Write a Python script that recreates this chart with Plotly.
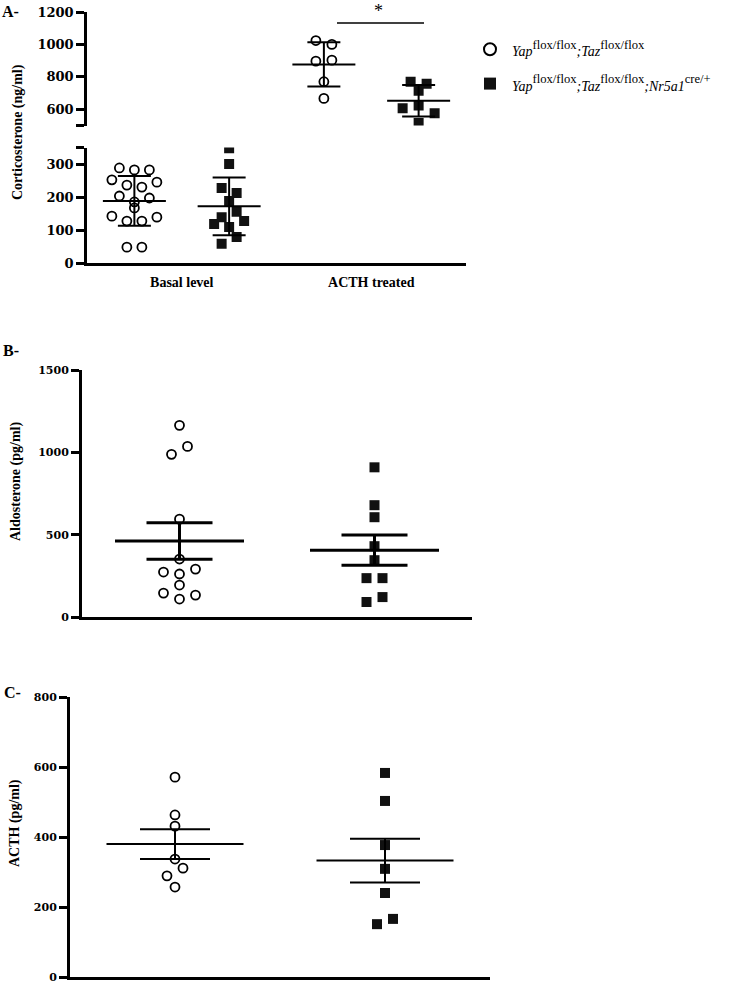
import numpy as np
import plotly.graph_objects as go

# ------------------------------------------------------------------ data
categories = ["Basal level", "ACTH treated"]
BASE = '<span style="font-size:14px">'
wt_label = (f"{BASE}<i>Yap</i></span><sup>flox/flox</sup>"
            f"{BASE}<i>;Taz</i></span><sup>flox/flox</sup>")
ko_label = (f"{BASE}<i>Yap</i></span><sup>flox/flox</sup>"
            f"{BASE}<i>;Taz</i></span><sup>flox/flox</sup>"
            f"{BASE}<i>;Nr5a1</i></span><sup>cre/+</sup>")

# Panel A: corticosterone (ng/ml)
cort_basal_wt = [288, 282, 282, 252, 236, 230, 245, 203, 185, 197, 167,
                 142, 127, 127, 139, 48, 48]
cort_basal_ko = [348, 300, 227, 212, 188, 139, 155, 118, 109, 127, 58, 79]
cort_acth_wt = [1024, 1000, 897, 903, 770, 667]
cort_acth_ko = [770, 758, 715, 606, 624, 576, 515]

# Panel B: aldosterone (pg/ml)
aldo_wt = [1164, 988, 1036, 594, 352, 273, 261, 291, 194, 145, 109, 133]
aldo_ko = [909, 679, 606, 430, 345, 236, 236, 91, 121]

# Panel C: ACTH (pg/ml)
acth_wt = [571, 463, 431, 337, 289, 311, 257]
acth_ko = [583, 503, 377, 309, 240, 151, 166]

a_low_ticks = [0, 100, 200, 300, 350]
a_low_text = ["0", "100", "200", "300", ""]
a_high_ticks = [500, 600, 800, 1000, 1200]
a_high_text = ["", "600", "800", "1000", "1200"]
b_ticks = [0, 500, 1000, 1500]
c_ticks = [0, 200, 400, 600, 800]

# ------------------------------------------------------------------ layout geometry (pixels)
W, H = 750, 981
A_X = (87, 466)
A_LOW = (263, 147.5, 0, 350)      # pixel bottom, pixel top, value min, value max
A_HIGH = (125.5, 12, 500, 1200)
B_X = (82, 472)
B_Y = (617, 370, 0, 1500)
C_X = (70, 490)
C_Y = (977, 697, 0, 800)
XRANGE = (0.5, 2.5)


def fx(px):
    return px / W


def fy(py):
    return 1 - py / H


def ppu_y(box):
    return (box[0] - box[1]) / (box[3] - box[2])


def ppu_x(xb):
    return (xb[1] - xb[0]) / (XRANGE[1] - XRANGE[0])


def swarm(values, center, py, px, spacing_px, row_px=8.0):
    """Prism-like scatter layout: points in the same value row spread symmetrically."""
    vals = np.asarray(values, float)
    order = np.argsort(-vals, kind="stable")
    rows = []
    for i in order:
        if rows and (vals[rows[-1][0]] - vals[i]) * py < row_px:
            rows[-1].append(i)
        else:
            rows.append([i])
    xs = np.empty(len(vals))
    for r in rows:
        r = sorted(r)
        n = len(r)
        for k, i in enumerate(r):
            xs[i] = center + (k - (n - 1) / 2) * spacing_px / px
    return xs


FONT = "Liberation Serif"
TICKFONT = "DejaVu Serif"
fig = go.Figure()


def add_points(vals, center, ybox, xb, spacing, xa, ya, kind, name=None, legend=False):
    xs = swarm(vals, center, ppu_y(ybox), ppu_x(xb), spacing)
    if kind == "wt":
        marker = dict(symbol="circle-open", size=9, color="black", line=dict(width=1.8, color="black"))
    else:
        marker = dict(symbol="square", size=10, color="#111111", line=dict(width=0))
    fig.add_trace(go.Scatter(
        x=xs, y=vals, mode="markers", marker=marker, xaxis=xa, yaxis=ya,
        name=name, legendgroup=kind, showlegend=legend, hoverinfo="y"))


def add_mean(vals, center, xa, ya, length, cap, lw, err="sd"):
    v = np.asarray(vals, float)
    m = v.mean()
    e = v.std(ddof=1)
    if err == "sem":
        e = e / np.sqrt(len(v))
    fig.add_trace(go.Scatter(
        x=[center], y=[m], mode="markers", xaxis=xa, yaxis=ya,
        marker=dict(symbol="line-ew", size=length / 1.4, color="black",
                    line=dict(width=lw, color="black")),
        error_y=dict(type="data", array=[e], visible=True, color="black",
                     thickness=lw, width=cap),
        showlegend=False, hoverinfo="skip"))


OFF = 0.25
# Panel A
add_points(cort_basal_wt, 1 - OFF, A_LOW, A_X, 15, "x", "y", "wt", wt_label, True)
add_points(cort_basal_ko, 1 + OFF, A_LOW, A_X, 15, "x", "y", "ko", ko_label, True)
add_points(cort_acth_wt, 2 - OFF, A_HIGH, A_X, 16, "x", "y2", "wt")
add_points(cort_acth_ko, 2 + OFF, A_HIGH, A_X, 16, "x", "y2", "ko")
add_mean(cort_basal_wt, 1 - OFF, "x", "y", 63, 16.5, 2)
add_mean(cort_basal_ko, 1 + OFF, "x", "y", 63, 16.5, 2)
add_mean(cort_acth_wt, 2 - OFF, "x", "y2", 63, 16.5, 2)
add_mean(cort_acth_ko, 2 + OFF, "x", "y2", 63, 16.5, 2)

# Panel B
add_points(aldo_wt, 1, B_Y, B_X, 16, "x3", "y3", "wt")
add_points(aldo_ko, 2, B_Y, B_X, 16, "x3", "y3", "ko")
add_mean(aldo_wt, 1, "x3", "y3", 129, 33, 3, "sem")
add_mean(aldo_ko, 2, "x3", "y3", 129, 33, 3, "sem")

# Panel C
add_points(acth_wt, 1, C_Y, C_X, 16, "x4", "y4", "wt")
add_points(acth_ko, 2, C_Y, C_X, 16, "x4", "y4", "ko")
add_mean(acth_wt, 1, "x4", "y4", 137, 35, 2, "sem")
add_mean(acth_ko, 2, "x4", "y4", 137, 35, 2, "sem")

tickfont_a = dict(family=TICKFONT, size=13, color="black", weight="bold")
tickfont_bc = dict(family=TICKFONT, size=11, color="black", weight="bold")


def yax(box, ticks, text, lw, font, anchor):
    return dict(domain=[fy(box[0]), fy(box[1])], range=[box[2], box[3]], anchor=anchor,
                tickvals=ticks, ticktext=text, ticks="outside", ticklen=8, tickwidth=lw,
                tickcolor="black", showline=True, linewidth=lw, linecolor="black",
                showgrid=False, zeroline=False, tickfont=font, fixedrange=True,
                ticklabeloverflow="allow")


def xax(xb, anchor, lw, labels=None):
    d = dict(domain=[fx(xb[0]), fx(xb[1])], range=list(XRANGE), anchor=anchor,
             showline=True, linewidth=lw, linecolor="black", showgrid=False,
             zeroline=False, fixedrange=True)
    if labels:
        d.update(tickvals=[1, 2], ticktext=labels, ticks="outside", ticklen=4,
                 tickcolor="rgba(0,0,0,0)",
                 tickfont=dict(family=FONT, size=14, color="black", weight="bold"))
    else:
        d.update(showticklabels=False, ticks="")
    return d


fig.update_layout(
    width=W, height=H, autosize=False,
    margin=dict(l=0, r=0, t=0, b=0, autoexpand=False),
    paper_bgcolor="white", plot_bgcolor="white",
    font=dict(family=FONT, color="black"),
    xaxis=xax(A_X, "y", 2.5, categories),
    yaxis=yax(A_LOW, a_low_ticks, a_low_text, 2.5, tickfont_a, "x"),
    yaxis2=yax(A_HIGH, a_high_ticks, a_high_text, 2.5, tickfont_a, "x"),
    xaxis3=xax(B_X, "y3", 3),
    yaxis3=yax(B_Y, b_ticks, [str(t) for t in b_ticks], 3, tickfont_bc, "x3"),
    xaxis4=xax(C_X, "y4", 3),
    yaxis4=yax(C_Y, c_ticks, [str(t) for t in c_ticks], 3, tickfont_bc, "x4"),
    legend=dict(x=fx(468), y=fy(31), xanchor="left", yanchor="top",
                itemwidth=34, itemsizing="constant", tracegroupgap=8,
                bgcolor="rgba(0,0,0,0)",
                font=dict(family=FONT, size=18, color="black")),
    showlegend=True,
)

annotations = [
    dict(text="<b>A-</b>", x=fx(0), y=fy(11)),
    dict(text="<b>B-</b>", x=fx(1), y=fy(350)),
    dict(text="<b>C-</b>", x=fx(2), y=fy(692)),
]
for a in annotations:
    a.update(xref="paper", yref="paper", xanchor="left", yanchor="middle", showarrow=False,
             font=dict(family=FONT, size=16, color="black"))

titles = [
    ("<b>Corticosterone (ng/ml)</b>", 18, 132),
    ("<b>Aldosterone (pg/ml)</b>", 16, 482),
    ("<b>ACTH (pg/ml)</b>", 15, 823),
]
for t, px, py in titles:
    annotations.append(dict(text=t, x=fx(px), y=fy(py), xref="paper", yref="paper",
                            xanchor="center", yanchor="middle", textangle=-90,
                            showarrow=False, font=dict(family=FONT, size=14, color="black")))

annotations.append(dict(text="*", x=fx(378), y=fy(11), xref="paper", yref="paper",
                        xanchor="center", yanchor="middle", showarrow=False,
                        font=dict(family=FONT, size=18, color="black")))
fig.update_layout(annotations=annotations)

fig.add_shape(type="line", xref="paper", yref="paper",
              x0=fx(337), x1=fx(424), y0=fy(23), y1=fy(23),
              line=dict(color="black", width=1.5))

fig.write_html("out.html", config={"displayModeBar": False},
               post_script="document.body.style.margin='0';document.body.style.overflow='hidden';")
